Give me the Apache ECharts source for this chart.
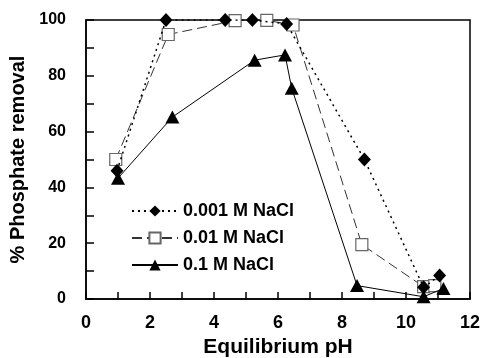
<!DOCTYPE html>
<html>
<head>
<meta charset="utf-8">
<script src="https://cdn.jsdelivr.net/npm/echarts@6/dist/echarts.min.js"></script>
<style>
  html, body { margin: 0; padding: 0; background: #fff; }
  #chart { width: 483px; height: 358px; }
</style>
</head>
<body>
<div id="chart"></div>
<script>
// 0.001 M NaCl
const ph1 = [0.97, 2.5, 4.35, 5.2, 6.27, 8.7, 10.55, 11.05];
const rem1 = [46, 100, 100, 100, 98.6, 50, 4.2, 8.4];
// 0.01 M NaCl
const ph2 = [0.93, 2.57, 4.66, 5.65, 6.47, 8.62, 10.55, 10.9];
const rem2 = [50, 94.8, 99.8, 99.9, 98.2, 19.5, 4.4, 4.8];
// 0.1 M NaCl
const ph3 = [1.0, 2.7, 5.27, 6.22, 6.43, 8.47, 10.55, 11.17];
const rem3 = [43.3, 65.2, 85.6, 87.5, 75.5, 4.8, 0.8, 3.8];

const names = ['0.001 M NaCl', '0.01 M NaCl', '0.1 M NaCl'];
const xTicks = [0, 2, 4, 6, 8, 10, 12];

const zip = (a, b) => a.map((v, i) => [v, b[i]]);
const font = 'Liberation Sans, Arial, sans-serif';

const myChart = echarts.init(document.getElementById('chart'));
let option = {
  animation: false,
  grid: {
    left: 86, right: 13, top: 20, bottom: 59,
    outerBoundsMode: 'none',
    containLabel: false,
    show: true, borderColor: '#000', borderWidth: 1.5, backgroundColor: 'transparent'
  },
  legend: {
    orient: 'vertical',
    left: 126,
    top: 197,
    itemWidth: 46,
    itemHeight: 14,
    itemGap: 9,
    data: names,
    textStyle: { fontFamily: font, fontWeight: 'bold', fontSize: 18, color: '#000' }
  },
  xAxis: {
    type: 'value',
    min: 0, max: 12, interval: 2,
    name: 'Equilibrium pH',
    nameLocation: 'middle',
    nameGap: 38,
    nameTextStyle: { fontFamily: font, fontWeight: 'bold', fontSize: 21, color: '#000' },
    axisLine: { lineStyle: { color: '#000', width: 1.5 } },
    axisTick: { inside: true, length: 7, lineStyle: { color: '#000', width: 1.5 } },
    minorTick: { show: true, splitNumber: 2, length: 7, lineStyle: { color: '#000', width: 1.5 } },
    splitLine: { show: false },
    axisLabel: {
      margin: 15, fontFamily: font, fontWeight: 'bold', fontSize: 18, color: '#000',
      formatter: v => xTicks.includes(v) ? String(v) : ''
    }
  },
  yAxis: {
    type: 'value',
    min: 0, max: 100, interval: 20,
    name: '% Phosphate removal',
    nameLocation: 'middle',
    nameGap: 47,
    nameTextStyle: { fontFamily: font, fontWeight: 'bold', fontSize: 20, color: '#000' },
    axisLine: { lineStyle: { color: '#000', width: 1.5 } },
    axisTick: { inside: true, length: 8, lineStyle: { color: '#000', width: 1.5 } },
    minorTick: { show: true, splitNumber: 2, length: 8, lineStyle: { color: '#000', width: 1.5 } },
    splitLine: { show: false },
    axisLabel: { margin: 20, fontFamily: font, fontWeight: 'bold', fontSize: 16, color: '#000' }
  },
  series: [
    {
      name: names[0],
      type: 'line',
      data: zip(ph1, rem1),
      symbol: 'diamond',
      symbolSize: [13, 14],
      itemStyle: { color: '#000' },
      lineStyle: { color: '#000', width: 1.5, type: [2, 4] },
      z: 3
    },
    {
      name: names[1],
      type: 'line',
      data: zip(ph2, rem2),
      symbol: 'rect',
      symbolSize: 12,
      itemStyle: { color: '#fff', borderColor: '#666', borderWidth: 1.2 },
      lineStyle: { color: '#333', width: 1, type: [10, 5] },
      z: 2
    },
    {
      name: names[2],
      type: 'line',
      data: zip(ph3, rem3),
      symbol: 'triangle',
      symbolSize: [14, 13],
      itemStyle: { color: '#000' },
      lineStyle: { color: '#000', width: 1 },
      z: 4
    }
  ]
};
myChart.setOption(option);
</script>
</body>
</html>
